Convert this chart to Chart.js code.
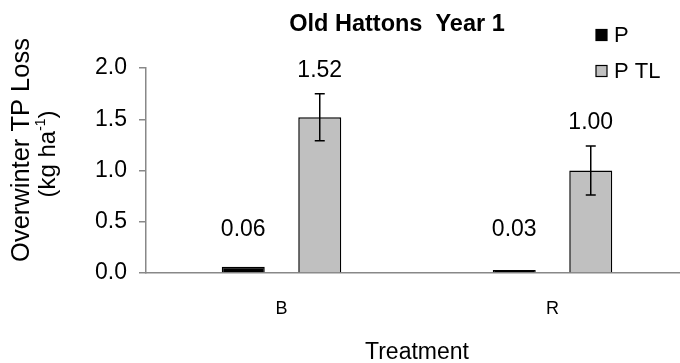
<!DOCTYPE html>
<html>
<head>
<meta charset="utf-8">
<script src="https://cdn.jsdelivr.net/npm/chart.js@4/dist/chart.umd.min.js"></script>
<style>
  html, body { margin: 0; padding: 0; background: #fff; overflow: hidden; }
  #wrap { width: 680px; height: 363px; overflow: hidden; }
</style>
</head>
<body>
<div id="wrap"><canvas id="c" width="690" height="363"></canvas></div>
<script>
// values
const categories = ['B', 'R'];
const seriesP = [0.06, 0.03];
const seriesPTL = [1.52, 1.00];
const errPTL = [0.23, 0.24];
const seriesNames = ['P', 'P TL'];
const chartTitle = 'Old Hattons  Year 1';
const yTitleTop = 'Overwinter TP Loss';
const xTitle = 'Treatment';

const FONT = '"Liberation Sans", Arial, sans-serif';
const errors = [null, errPTL];

// error bars, value labels, titles and legend drawn on top
const extras = {
  id: 'extras',
  afterDatasetsDraw(chart) {
    const ctx = chart.ctx;
    const y = chart.scales.y;
    ctx.save();

    // error bars
    ctx.strokeStyle = '#000';
    ctx.lineWidth = 1.5;
    errors.forEach((errs, di) => {
      if (!errs) return;
      const meta = chart.getDatasetMeta(di);
      meta.data.forEach((bar, i) => {
        const v = chart.data.datasets[di].data[i];
        const yt = y.getPixelForValue(v + errs[i]);
        const yb = y.getPixelForValue(v - errs[i]);
        ctx.beginPath();
        ctx.moveTo(bar.x, yt); ctx.lineTo(bar.x, yb);
        ctx.moveTo(bar.x - 5, yt); ctx.lineTo(bar.x + 5, yt);
        ctx.moveTo(bar.x - 5, yb); ctx.lineTo(bar.x + 5, yb);
        ctx.stroke();
      });
    });

    // value labels
    ctx.fillStyle = '#000';
    ctx.font = '23px ' + FONT;
    ctx.textAlign = 'center';
    ctx.textBaseline = 'middle';
    chart.data.datasets.forEach((ds, di) => {
      const meta = chart.getDatasetMeta(di);
      meta.data.forEach((bar, i) => {
        const top = ds.data[i] + (errors[di] ? errors[di][i] : 0);
        const ly = Math.min(y.getPixelForValue(top) - 23, y.getPixelForValue(0.42));
        ctx.fillText(ds.data[i].toFixed(2), bar.x, ly);
      });
    });

    // chart title
    ctx.font = 'bold 23.5px ' + FONT;
    ctx.fillText(chartTitle, 397, 25);

    // y axis title, two lines
    ctx.save();
    ctx.translate(0, 150);
    ctx.rotate(-Math.PI / 2);
    ctx.font = '25.5px ' + FONT;
    ctx.fillText(yTitleTop, 0, 22);
    const a = '(kg ha', sup = '-1', b = ')';
    const big = '24px ' + FONT, small = '14px ' + FONT;
    ctx.font = big; const wa = ctx.measureText(a).width, wb = ctx.measureText(b).width;
    ctx.font = small; const ws = ctx.measureText(sup).width;
    let x0 = -(wa + ws + wb) / 2 - 4;
    ctx.textAlign = 'left';
    ctx.font = big; ctx.fillText(a, x0, 48);
    ctx.font = small; ctx.fillText(sup, x0 + wa, 41);
    ctx.font = big; ctx.fillText(b, x0 + wa + ws, 48);
    ctx.restore();

    // legend
    ctx.textAlign = 'left';
    ctx.font = '22px ' + FONT;
    const legY = [35, 71];
    chart.data.datasets.forEach((ds, di) => {
      ctx.fillStyle = ds.backgroundColor;
      ctx.fillRect(596, legY[di] - 5.5, 11, 11);
      ctx.strokeStyle = '#000';
      ctx.lineWidth = 1.2;
      ctx.strokeRect(596, legY[di] - 5.5, 11, 11);
      ctx.fillStyle = '#000';
      ctx.fillText(ds.label, 614, legY[di] + 1);
    });

    ctx.restore();
  }
};

new Chart(document.getElementById('c'), {
  type: 'bar',
  data: {
    labels: categories,
    datasets: [
      { label: seriesNames[0], data: seriesP, backgroundColor: '#000000', borderColor: '#000', borderWidth: 1.5 },
      { label: seriesNames[1], data: seriesPTL, backgroundColor: '#c0c0c0', borderColor: '#000', borderWidth: 1.5 }
    ]
  },
  options: {
    responsive: false,
    animation: false,
    events: [],
    categoryPercentage: 0.5646,
    barPercentage: 0.562,
    layout: { padding: { left: 0, right: 2, top: 68, bottom: 0 } },
    plugins: {
      legend: { display: false },
      title: { display: false },
      tooltip: { enabled: false }
    },
    scales: {
      x: {
        afterFit: (s) => { s.height = 90; },
        grid: { display: false, drawTicks: false },
        border: { display: true, color: '#888', width: 1.5 },
        ticks: { color: '#000', font: { family: FONT, size: 18 }, padding: 25 },
        title: { display: true, text: xTitle, color: '#000', font: { family: FONT, size: 23, lineHeight: 0.9 }, padding: 0 }
      },
      y: {
        min: 0, max: 2,
        afterFit: (s) => { s.width = 146; },
        grid: { display: true, drawOnChartArea: false, drawTicks: true, tickLength: 7, color: '#888', lineWidth: 1.5 },
        border: { display: true, color: '#888', width: 1.5 },
        ticks: { stepSize: 0.5, color: '#000', padding: 12, font: { family: FONT, size: 23 },
                 callback: (v) => v.toFixed(1) }
      }
    }
  },
  plugins: [extras]
});
</script>
</body>
</html>
